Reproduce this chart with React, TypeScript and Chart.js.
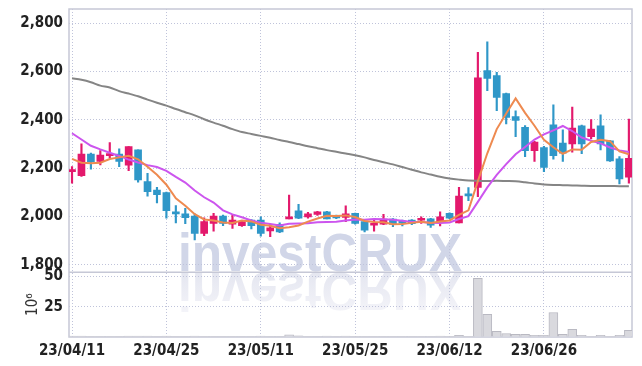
import React, { useEffect, useRef } from 'react';
import { Chart, registerables } from 'chart.js';

Chart.register(...registerables);

const dates = [
  '23/04/11', '23/04/12', '23/04/13', '23/04/14', '23/04/17', '23/04/18', '23/04/19', '23/04/20', '23/04/21', '23/04/24',
  '23/04/25', '23/04/26', '23/04/27', '23/04/28', '23/05/02', '23/05/03', '23/05/04', '23/05/08', '23/05/09', '23/05/10',
  '23/05/11', '23/05/12', '23/05/15', '23/05/16', '23/05/17', '23/05/18', '23/05/19', '23/05/22', '23/05/23', '23/05/24',
  '23/05/25', '23/05/26', '23/05/30', '23/05/31', '23/06/01', '23/06/02', '23/06/05', '23/06/07', '23/06/08', '23/06/09',
  '23/06/12', '23/06/13', '23/06/14', '23/06/15', '23/06/16', '23/06/19', '23/06/20', '23/06/21', '23/06/22', '23/06/23',
  '23/06/26', '23/06/27', '23/06/28', '23/06/29', '23/06/30', '23/07/03', '23/07/04', '23/07/05', '23/07/06', '23/07/07',
];

const open = [
  2185, 2168, 2258, 2227, 2251, 2258, 2212, 2275, 2144, 2109,
  2098, 2014, 2010, 2001, 1929, 1971, 2001, 1968, 1961, 1985,
  1985, 1940, 1967, 1989, 2023, 1998, 2008, 2019, 1999, 1996,
  2012, 1978, 1963, 1968, 1989, 1975, 1985, 1984, 1990, 1978,
  2012, 1973, 2088, 2120, 2603, 2582, 2508, 2413, 2368, 2272,
  2285, 2379, 2303, 2300, 2375, 2330, 2375, 2312, 2238, 2162,
];
const high = [
  2206, 2300, 2262, 2272, 2305, 2279, 2289, 2275, 2178, 2120,
  2100, 2045, 2033, 2010, 1994, 2012, 2005, 2008, 1980, 1987,
  1998, 1967, 1973, 2088, 2050, 2017, 2021, 2021, 2005, 2044,
  2014, 1980, 1988, 2008, 1991, 1985, 1987, 1998, 1992, 2019,
  2015, 2120, 2119, 2679, 2722, 2596, 2510, 2437, 2376, 2310,
  2290, 2461, 2358, 2452, 2378, 2400, 2420, 2315, 2247, 2403,
];
const low = [
  2137, 2165, 2195, 2213, 2242, 2206, 2189, 2141, 2084, 2056,
  1992, 1973, 1970, 1902, 1920, 1939, 1961, 1950, 1958, 1948,
  1918, 1916, 1932, 1989, 1990, 1992, 2004, 1989, 1990, 1978,
  1968, 1936, 1939, 1966, 1957, 1960, 1966, 1971, 1954, 1960,
  1990, 1973, 2065, 2081, 2520, 2437, 2382, 2330, 2247, 2227,
  2185, 2237, 2227, 2266, 2259, 2320, 2275, 2227, 2134, 2137,
];
const close = [
  2190, 2258, 2225, 2254, 2258, 2227, 2289, 2151, 2102, 2090,
  2023, 2010, 1995, 1929, 1978, 2001, 1971, 1985, 1978, 1961,
  1929, 1953, 1936, 1998, 1992, 2010, 2019, 1989, 1994, 2010,
  1971, 1943, 1967, 1989, 1967, 1972, 1970, 1990, 1964, 1998,
  1992, 2084, 2085, 2573, 2571, 2492, 2409, 2397, 2272, 2307,
  2202, 2251, 2261, 2365, 2300, 2361, 2300, 2229, 2155, 2240,
];
// volume in millions
const volume = [
  0.8, 0.8, 0.3, 0.3, 0.3, 0.6, 0.8, 0.8, 0.8, 0.3,
  0.8, 0.3, 0.3, 0.8, 0.3, 0.3, 0.3, 0.3, 0.3, 0.3,
  0.8, 0.3, 0.3, 1.8, 1.0, 0.6, 0.3, 0.8, 0.3, 0.8,
  0.3, 0.3, 0.3, 0.3, 0.3, 0.3, 0.3, 0.3, 0.3, 0.8,
  0.3, 1.3, 0.6, 48.3, 18.7, 4.7, 2.9, 2.1, 2.1, 1.4,
  1.4, 20.2, 2.2, 6.4, 1.4, 0.6, 1.4, 0.6, 1.4, 5.4,
];
const ma5 = [
  2238, 2222, 2220, 2222, 2237, 2244, 2251, 2236, 2205, 2172,
  2131, 2075, 2044, 2009, 1987, 1983, 1975, 1973, 1983, 1979,
  1965, 1961, 1951, 1955, 1962, 1978, 1991, 2002, 2001, 2004,
  1997, 1981, 1977, 1976, 1967, 1968, 1973, 1978, 1973, 1979,
  1983, 2006, 2025, 2146, 2261, 2361, 2426, 2488, 2428, 2375,
  2317, 2286, 2259, 2277, 2276, 2308, 2317, 2311, 2269, 2257,
];
const ma10 = [
  2344, 2318, 2292, 2277, 2263, 2250, 2235, 2223, 2212, 2204,
  2188, 2163, 2140, 2107, 2079, 2057, 2025, 2008, 1996, 1983,
  1974, 1968, 1962, 1969, 1970, 1971, 1976, 1977, 1978, 1983,
  1987, 1986, 1989, 1988, 1986, 1982, 1977, 1977, 1974, 1973,
  1975, 1989, 2001, 2060, 2120, 2172, 2216, 2257, 2287, 2318,
  2339, 2356, 2374, 2353, 2326, 2313, 2302, 2285, 2273, 2266,
];
const maLong = [
  2571, 2565, 2555, 2541, 2533, 2518, 2508, 2497, 2483, 2470,
  2458, 2444, 2431, 2418, 2402, 2388, 2375, 2361, 2349, 2341,
  2333, 2325, 2316, 2308, 2299, 2290, 2282, 2274, 2267, 2260,
  2253, 2244, 2233, 2224, 2215, 2204, 2193, 2182, 2173, 2164,
  2157, 2152, 2148, 2147, 2146, 2147, 2146, 2145, 2141, 2136,
  2132, 2130, 2129, 2128, 2127, 2126, 2126, 2126, 2125, 2125,
];
const priceTicks = [1800, 2000, 2200, 2400, 2600, 2800];
const volumeTicks = [0, 25, 50];
const dateTickIndices = [0, 10, 20, 30, 40, 50];

const RED = '#e3196c';
const BLUE = '#2f97c8';
const GRID = '#bfc3da';
const FRAME = '#c6c8d6';
const TICK_FONT = { family: "'Liberation Sans Narrow', 'DejaVu Sans Condensed', sans-serif", size: 15, weight: 'bold' as const };

const decorPlugin = {
  id: 'decor',
  beforeDraw(chart: any) {
    const { ctx, chartArea } = chart;
    const yv = chart.scales.yv;
    const base = yv.top - 1;
    const text = 'investCRUX';
    ctx.save();
    ctx.font = "bold 54px 'Liberation Sans', Arial, sans-serif";
    const w = ctx.measureText(text).width;
    const sx = 284 / w;
    ctx.translate(chartArea.left + 109, base);
    ctx.scale(sx, 1);
    ctx.textBaseline = 'alphabetic';
    ctx.fillStyle = '#d1d6e8';
    ctx.fillText(text, 0, 0);
    ctx.scale(1, -1);
    const g = ctx.createLinearGradient(0, 0, 0, -42);
    g.addColorStop(0, '#e4e6f0');
    g.addColorStop(1, '#f4f4f9');
    ctx.fillStyle = g;
    ctx.fillText(text, 0, -2);
    ctx.restore();
  },
  beforeDatasetsDraw(chart: any) {
    const { ctx, chartArea } = chart;
    const yv = chart.scales.yv;
    ctx.save();
    ctx.strokeStyle = FRAME;
    ctx.lineWidth = 1.5;
    ctx.strokeRect(chartArea.left, chartArea.top, chartArea.right - chartArea.left, chartArea.bottom - chartArea.top);
    ctx.beginPath();
    ctx.moveTo(chartArea.left, yv.top);
    ctx.lineTo(chartArea.right, yv.top);
    ctx.stroke();
    ctx.restore();
  },
};

const fitY = (s: any) => {
  s.width = 49;
  s.paddingTop = 0;
  s.paddingBottom = 0;
};

export default function App() {
  const ref = useRef<HTMLCanvasElement | null>(null);

  useEffect(() => {
    if (!ref.current) return;
    const colors = close.map((c, i) => (c >= open[i] ? RED : BLUE));
    const pts = (arr: number[]) => arr.map((v, i) => ({ x: i, y: v }));

    const chart = new Chart(ref.current, {
      type: 'bar',
      data: {
        datasets: [
          { type: 'line', label: 'MA5', data: pts(ma5), borderColor: '#ee8a50', borderWidth: 2, pointRadius: 0, tension: 0, yAxisID: 'y', order: 0 } as any,
          { type: 'line', label: 'MA10', data: pts(ma10), borderColor: '#cc55ee', borderWidth: 2, pointRadius: 0, tension: 0, yAxisID: 'y', order: 1 } as any,
          { type: 'line', label: 'MA60', data: pts(maLong), borderColor: '#858585', borderWidth: 2, pointRadius: 0, tension: 0.3, yAxisID: 'y', order: 2 } as any,
          {
            type: 'bar', label: 'body', data: open.map((o, i) => ({ x: i, y: [o, close[i]] })) as any,
            backgroundColor: colors, barThickness: 7, minBarLength: 2, grouped: false, yAxisID: 'y', order: 3,
          },
          {
            type: 'bar', label: 'wick', data: low.map((l, i) => ({ x: i, y: [l, high[i]] })) as any,
            backgroundColor: colors, barThickness: 1.5, grouped: false, yAxisID: 'y', order: 4,
          },
          {
            type: 'bar', label: 'volume', data: pts(volume) as any,
            backgroundColor: '#d9d9de', borderColor: '#b9b9c2', borderWidth: 1, barThickness: 9, grouped: false, yAxisID: 'yv', order: 5,
          },
        ],
      },
      options: {
        animation: false,
        responsive: true,
        maintainAspectRatio: false,
        events: [],
        layout: { padding: { left: 20, top: 9, right: 10, bottom: 0 } },
        plugins: { legend: { display: false }, tooltip: { enabled: false } },
        scales: {
          x: {
            type: 'linear',
            offset: false,
            min: -0.32,
            max: 59.33,
            afterBuildTicks: (s: any) => { s.ticks = dateTickIndices.map((v) => ({ value: v })); },
            afterFit: (s: any) => { s.height = 29; s.paddingLeft = 0; s.paddingRight = 0; },
            ticks: {
              autoSkip: false, maxRotation: 0, padding: 5, color: '#222', font: TICK_FONT,
              callback: (v: any) => dates[v as number] ?? '',
            },
            grid: { color: GRID, drawTicks: false, lineWidth: 1, offset: false },
            border: { display: false, dash: [1, 2] },
          },
          yv: {
            type: 'linear',
            position: 'left',
            stack: 'panels',
            stackWeight: 1,
            min: 0,
            max: 53.4,
            afterBuildTicks: (s: any) => { s.ticks = volumeTicks.map((v) => ({ value: v })); },
            afterFit: fitY,
            title: { display: true, text: '10⁶', color: '#333', font: { family: "'Liberation Sans Narrow', 'DejaVu Sans Condensed', sans-serif", size: 15 }, padding: { top: 4, bottom: 4 } },
            ticks: {
              autoSkip: false, padding: 6, color: '#222', font: TICK_FONT,
              callback: (v: any) => (Number(v) === 0 ? '' : String(v)),
            },
            grid: { color: (c: any) => (c.tick && c.tick.value === 0 ? 'rgba(0,0,0,0)' : GRID), drawTicks: false },
            border: { display: false, dash: [1, 2] },
          },
          y: {
            type: 'linear',
            position: 'left',
            stack: 'panels',
            stackWeight: 4.06,
            min: 1769,
            max: 2858,
            afterBuildTicks: (s: any) => { s.ticks = priceTicks.map((v) => ({ value: v })); },
            afterFit: fitY,
            ticks: {
              autoSkip: false, padding: 6, color: '#222', font: TICK_FONT,
              callback: (v: any) => Number(v).toLocaleString('en-US'),
            },
            grid: { color: GRID, drawTicks: false },
            border: { display: false, dash: [1, 2] },
          },
        },
      } as any,
      plugins: [decorPlugin],
    });
    return () => chart.destroy();
  }, []);

  return (
    <div style={{ position: 'absolute', left: 0, top: 0, width: 642, height: 366 }}>
      <canvas ref={ref} />
    </div>
  );
}
